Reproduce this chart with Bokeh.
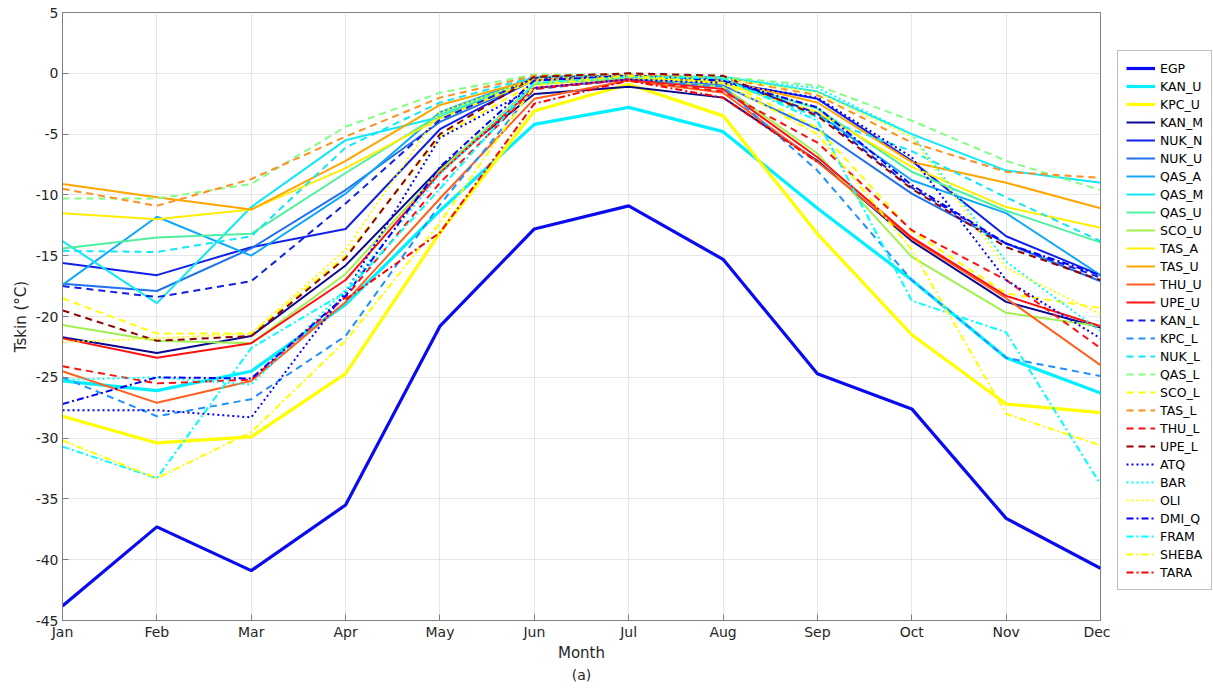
import math
from bokeh.plotting import figure
from bokeh.layouts import row
from bokeh.models import Legend, LegendItem, FixedTicker, Range1d, Title
from bokeh.embed import file_html
from bokeh.resources import INLINE

NaN = float("nan")
months = ["Jan", "Feb", "Mar", "Apr", "May", "Jun", "Jul", "Aug", "Sep", "Oct", "Nov", "Dec"]
y_ticks = [5, 0, -5, -10, -15, -20, -25, -30, -35, -40, -45]

EGP   = [-43.8, -37.3, -40.9, -35.5, -20.8, -12.8, -10.9, -15.3, -24.7, -27.6, -36.6, -40.7]
KAN_U = [-25.3, -26.1, -24.5, -19.0, -11.3, -4.2, -2.8, -4.8, -11.1, -17.0, -23.4, -26.3]
KPC_U = [-28.2, -30.4, -29.9, -24.7, -13.1, -3.1, -0.9, -3.5, -13.2, -21.5, -27.2, -27.9]
KAN_M = [-21.7, -23.0, -21.6, -15.8, -7.8, -1.7, -1.1, -2.0, -7.2, -13.8, -18.8, -20.9]
NUK_N = [-15.6, -16.6, -14.3, -12.8, -4.6, -0.5, -0.3, -0.7, -2.1, -7.2, -13.4, -16.6]
NUK_U = [-17.3, -17.9, -14.4, -9.6, -4.0, -0.6, -0.4, -1.0, -4.6, -9.9, -14.0, -17.1]
QAS_A = [-17.4, -11.8, -15.0, -9.9, -3.2, -0.3, -0.2, -0.5, -3.3, -8.8, -11.5, -16.6]
QAS_M = [-13.8, -18.9, -11.0, -5.5, -3.6, -0.3, -0.2, -0.3, -1.5, -5.0, -8.0, -9.0]
QAS_U = [-14.4, -13.5, -13.2, -8.2, -3.4, -0.4, -0.2, -0.6, -2.9, -8.1, -11.3, -13.9]
SCO_U = [-20.7, -22.0, -22.2, -16.5, -8.0, -0.9, -0.4, -1.1, -6.6, -15.1, -19.7, -20.8]
TAS_A = [-11.5, -12.0, -11.2, -7.8, -3.7, -0.6, -0.3, -0.8, -3.2, -7.7, -11.0, -12.7]
TAS_U = [-9.1, -10.2, -11.2, -7.2, -2.6, -0.5, -0.2, -0.6, -2.4, -7.3, -9.0, -11.1]
THU_U = [-24.5, -27.1, -25.3, -18.8, -10.3, -2.1, -0.6, -1.6, -7.3, -13.6, -18.5, -24.0]
UPE_U = [-21.8, -23.4, -22.2, -17.0, -8.2, -1.2, -0.5, -1.3, -6.9, -13.5, -18.3, -20.8]
KAN_L = [-17.5, -18.4, -17.1, -10.7, -3.8, -0.4, -0.2, -0.5, -3.3, -9.4, -14.0, -16.8]
KPC_L = [-25.0, -28.2, -26.8, -21.6, -10.8, -1.3, -0.5, -1.1, -8.0, -17.0, -23.4, -24.9]
NUK_L = [-14.6, -14.7, -13.4, -6.1, -2.4, -0.3, -0.2, -0.5, -3.6, -6.4, -10.2, -13.8]
QAS_L = [-10.3, -10.3, -9.1, -4.4, -1.6, -0.1, -0.1, -0.3, -1.0, -3.9, -7.2, -9.6]
SCO_L = [-18.5, -21.4, -21.4, -15.0, -5.2, -0.8, -0.3, -0.6, -4.5, -13.0, -18.1, -19.3]
TAS_L = [-9.5, -10.9, -8.7, -5.2, -2.0, -0.2, -0.1, -0.4, -1.8, -5.7, -8.1, -8.6]
THU_L = [-24.1, -25.5, -25.2, -18.4, -9.0, -1.3, -0.5, -1.5, -5.7, -12.9, -17.0, -22.6]
UPE_L = [-19.5, -22.0, -21.6, -15.2, -5.0, -0.3, 0.0, -0.2, -3.5, -9.5, -14.3, -17.0]
ATQ   = [-27.7, -27.7, -28.3, -18.0, -5.3, -1.2, -0.5, -0.8, -2.0, -6.9, -17.0, -21.8]
BAR   = [-25.2, -25.0, -25.6, -17.8, -8.3, -0.9, -0.3, -0.4, -1.2, -5.0, -15.5, -21.2]
OLI   = [-22.1, -21.8, -21.4, -14.5, -3.2, -0.5, -0.2, -0.4, -1.6, -5.2, -16.0, -19.8]
DMI_Q = [-27.2, -25.0, -25.1, -18.3, -7.7, -0.6, -0.2, -0.6, -2.8, -9.2, -14.0, -16.6]
FRAM  = [-30.7, -33.3, -22.6, -18.0, -9.5, -0.8, -0.3, -0.4, -3.9, -18.7, -21.3, -33.8]
SHEBA = [-30.2, -33.3, -29.5, -22.0, -12.3, -1.0, -0.2, -0.8, -5.0, -14.5, -28.0, -30.6]
TARA  = [NaN, NaN, NaN, -18.6, -13.1, -2.5, -0.6, -2.0, -7.3, NaN, NaN, NaN]

SOLID, DASH, DOT, DASHDOT = "solid", "7 5", "2 3", "7 3 2 3"

series = [
    ("EGP", EGP, "#0a0af0", SOLID, 3.2),
    ("KAN_U", KAN_U, "#00f0ff", SOLID, 3.2),
    ("KPC_U", KPC_U, "#ffff00", SOLID, 3.2),
    ("KAN_M", KAN_M, "#0a0a90", SOLID, 2),
    ("NUK_N", NUK_N, "#1020e6", SOLID, 2),
    ("NUK_U", NUK_U, "#2070f0", SOLID, 2),
    ("QAS_A", QAS_A, "#10a8f8", SOLID, 2),
    ("QAS_M", QAS_M, "#10e8f8", SOLID, 2),
    ("QAS_U", QAS_U, "#50f0a0", SOLID, 2),
    ("SCO_U", SCO_U, "#a0f050", SOLID, 2),
    ("TAS_A", TAS_A, "#ffee00", SOLID, 2),
    ("TAS_U", TAS_U, "#ffa500", SOLID, 2),
    ("THU_U", THU_U, "#ff6020", SOLID, 2),
    ("UPE_U", UPE_U, "#ff1010", SOLID, 2),
    ("KAN_L", KAN_L, "#1020e6", DASH, 2),
    ("KPC_L", KPC_L, "#2090ff", DASH, 2),
    ("NUK_L", NUK_L, "#10e8f8", DASH, 2),
    ("QAS_L", QAS_L, "#80ff80", DASH, 2),
    ("SCO_L", SCO_L, "#ffff00", DASH, 2),
    ("TAS_L", TAS_L, "#ff9020", DASH, 2),
    ("THU_L", THU_L, "#ff1010", DASH, 2),
    ("UPE_L", UPE_L, "#900000", DASH, 2),
    ("ATQ", ATQ, "#0000ff", DOT, 2),
    ("BAR", BAR, "#00ffff", DOT, 2),
    ("OLI", OLI, "#ffff00", DOT, 2),
    ("DMI_Q", DMI_Q, "#0000ff", DASHDOT, 2),
    ("FRAM", FRAM, "#00ffff", DASHDOT, 2),
    ("SHEBA", SHEBA, "#ffff00", DASHDOT, 2),
    ("TARA", TARA, "#ff0000", DASHDOT, 2),
]

x = list(range(1, 13))
FONT = "DejaVu Sans"

p = figure(width=1110, height=690, output_backend="svg", toolbar_location=None,
           x_range=Range1d(1, 12), y_range=Range1d(-45, 5),
           min_border_left=62, min_border_right=10, min_border_top=12, min_border_bottom=70)
p.outline_line_color = "#7f7f7f"
p.outline_line_width = 1

p.xaxis.ticker = FixedTicker(ticks=x)
p.xaxis.major_label_overrides = {i + 1: m for i, m in enumerate(months)}
p.yaxis.ticker = FixedTicker(ticks=y_ticks)
p.yaxis.major_label_overrides = {v: str(v) for v in y_ticks}
for ax in (p.xaxis, p.yaxis):
    ax.axis_line_color = "#7f7f7f"
    ax.major_tick_line_color = "#7f7f7f"
    ax.major_tick_in = 6
    ax.major_tick_out = 0
    ax.minor_tick_line_color = None
    ax.major_label_text_font = FONT
    ax.major_label_text_font_size = "14px"
    ax.major_label_text_color = "#262626"
    ax.axis_label_text_font = FONT
    ax.axis_label_text_font_size = "15px"
    ax.axis_label_text_font_style = "normal"
    ax.axis_label_text_color = "#262626"
p.xaxis.axis_label = "Month"
p.yaxis.axis_label = "Tskin (°C)"
p.xaxis.major_label_standoff = 3
p.xaxis.axis_label_standoff = 1
p.yaxis.major_label_standoff = 4
p.yaxis.axis_label_standoff = 3

p.grid.grid_line_color = "#e6e6e6"
p.grid.grid_line_width = 1

# narrow side panel that only holds the legend; its y range is set so the
# proxy lines (same data) fall outside it and only the legend shows
q = figure(width=103, height=690, output_backend="svg", toolbar_location=None,
           x_axis_type=None, y_axis_type=None, x_range=Range1d(1, 12), y_range=Range1d(50, 51),
           min_border_left=0, min_border_right=0, min_border_top=12, min_border_bottom=70)
q.outline_line_color = None
q.grid.visible = False

items = []
for name, vals, color, dash, w in series:
    p.line(x, vals, line_color=color, line_width=w, line_dash=dash)
    proxy = q.line(x, vals, line_color=color, line_width=w, line_dash=dash)
    items.append(LegendItem(label=name, renderers=[proxy]))

legend = Legend(items=items, location=(7, 30))
legend.label_text_font = FONT
legend.label_text_font_size = "12.5px"
legend.label_text_color = "#000000"
legend.glyph_width = 29
legend.glyph_height = 18
legend.label_height = 18
legend.spacing = 0
legend.padding = 8
legend.margin = 0
legend.label_standoff = 5
legend.border_line_color = "#7f7f7f"
legend.background_fill_alpha = 1
q.add_layout(legend, "center")

t = Title(text="(a)", align="center", text_font=FONT, text_font_size="14px",
          text_font_style="normal", text_color="#262626", standoff=0, offset=0)
p.add_layout(t, "below")

layout = row(p, q, spacing=0)
open("out.html", "w").write(file_html(layout, INLINE))
